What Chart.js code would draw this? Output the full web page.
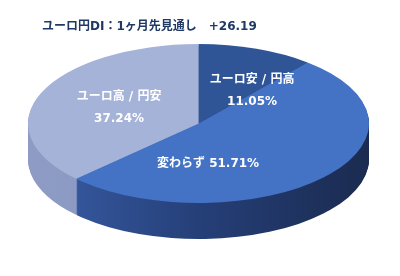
<!DOCTYPE html>
<html>
<head>
<meta charset="utf-8">
<script src="https://cdn.jsdelivr.net/npm/chart.js@4/dist/chart.umd.min.js"></script>
<style>
html,body{margin:0;padding:0;background:#fff;}
#wrap{width:400px;height:276px;position:relative;}
</style>
</head>
<body>
<div id="wrap"><canvas id="c" width="400" height="276"></canvas></div>
<script>
const titleText = 'ユーロ円DI：1ヶ月先見通し　+26.19';
const categories = ['ユーロ安 / 円高', '変わらず', 'ユーロ高 / 円安'];
const values = [11.05, 51.71, 37.24];
const topColors = ['#2F5597', '#4472C4', '#A5B3D9'];
const sideColors = [
  ['#1F3764', '#1F3764'],
  ['#3A5EA8', '#253F78', '#1B2B50'],
  ['#8E9CC5', '#8090BB']
];
// label anchor in units of the ellipse radii, relative to the pie centre
const labelPos = [[0.314, -0.41], [0.056, 0.51], [-0.466, -0.195]];
const twoLine = [true, false, true];

// geometry of the tilted pie
const CX = 198.5, CY = 123.5, RX = 170.5, RY = 79.5, DEPTH = 36;
const SX = RX / RY;
const FONT = '"DejaVu Sans", "Noto Sans CJK JP", sans-serif';

const pie3d = {
  id: 'pie3d',
  beforeDatasetsDraw(chart) {
    const ctx = chart.ctx;
    const meta = chart.getDatasetMeta(0);
    ctx.save();
    ctx.translate(CX, 0); ctx.scale(SX, 1); ctx.translate(-CX, 0);
    const grads = sideColors.map(stops => {
      const g = ctx.createLinearGradient(CX - RY, 0, CX + RY, 0);
      stops.forEach((c, i) => g.addColorStop(i / (stops.length - 1), c));
      return g;
    });
    for (let d = DEPTH; d >= 1; d--) {
      ctx.save();
      ctx.translate(0, d);
      meta.data.forEach((arc, i) => {
        const o = arc.options;
        arc.options = Object.assign({}, o, {backgroundColor: grads[i], borderWidth: 0});
        arc.draw(ctx);
        arc.options = o;
      });
      ctx.restore();
    }
  },
  afterDatasetsDraw(chart) {
    const ctx = chart.ctx;
    ctx.restore();
    ctx.save();
    ctx.fillStyle = '#1F3864';
    ctx.font = 'bold 12px ' + FONT;
    ctx.textBaseline = 'middle';
    ctx.textAlign = 'left';
    ctx.fillText(titleText, 42, 27);
    ctx.fillStyle = '#FFFFFF';
    ctx.font = 'bold 12px ' + FONT;
    ctx.textAlign = 'center';
    const meta = chart.getDatasetMeta(0);
    meta.data.forEach((arc, i) => {
      const x = arc.x + labelPos[i][0] * RX;
      const y = arc.y + labelPos[i][1] * RY;
      const pct = values[i].toFixed(2) + '%';
      if (twoLine[i]) {
        ctx.fillText(categories[i], x, y - 11);
        ctx.fillText(pct, x, y + 11);
      } else {
        ctx.fillText(categories[i] + ' ' + pct, x, y);
      }
    });
    ctx.restore();
  }
};

new Chart(document.getElementById('c'), {
  type: 'pie',
  data: {
    labels: categories,
    datasets: [{
      data: values,
      backgroundColor: topColors,
      borderWidth: 0
    }]
  },
  options: {
    responsive: false,
    animation: false,
    events: [],
    layout: {
      padding: {left: CX - RY, right: 400 - (CX + RY), top: CY - RY, bottom: 276 - (CY + RY)}
    },
    plugins: {
      legend: {display: false},
      tooltip: {enabled: false},
      title: {display: false}
    }
  },
  plugins: [pie3d]
});
</script>
</body>
</html>
